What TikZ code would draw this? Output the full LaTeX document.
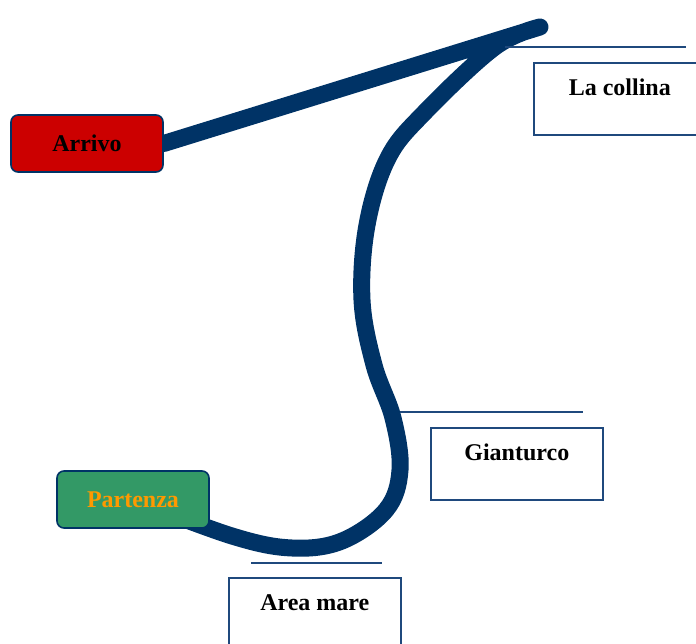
\documentclass[tikz,border=0pt]{standalone}
\usepackage{fontspec}
\setmainfont{Liberation Serif}
\usetikzlibrary{positioning, calc, backgrounds}
\definecolor{routeblue}{RGB}{0,51,102}
\definecolor{edgeblue}{RGB}{31,73,125}
\definecolor{endred}{RGB}{204,0,0}
\definecolor{startgreen}{RGB}{51,153,102}
\definecolor{startorange}{RGB}{255,153,0}

\begin{document}
\begin{tikzpicture}[
  x=1pt, y=-1pt,
  every node/.style={font=\fontsize{24}{28}\selectfont\bfseries},
  endpoint/.style={
    rectangle,
    draw=routeblue,
    line width=1.6pt,
    rounded corners=7pt,
    minimum width=152pt,
    minimum height=57pt,
    align=center
  },
  stage/.style={
    rectangle,
    draw=edgeblue,
    line width=1.6pt,
    fill=white,
    anchor=north west,
    minimum width=172pt,
    inner ysep=0pt,
    text height=33pt,
    text depth=39pt,
    align=center
  },
  route/.style={draw=routeblue, line width=17pt, line join=round, line cap=round},
  tick/.style={draw=edgeblue, line width=1.6pt}
]

\useasboundingbox (0,0) rectangle (696,644);

% ============================================================
% End points
% ============================================================

\node[endpoint, fill=endred, text=black] (arrivo) at (87,143.5) {Arrivo};
\node[endpoint, fill=startgreen, text=startorange] (partenza) at (133,499.5) {Partenza};

\coordinate (tip) at (540,27);

% ============================================================
% Route
% ============================================================

\begin{scope}[on background layer]
\draw[route] (arrivo.east) -- (tip) -- plot[smooth, tension=0.6] coordinates {
  (tip) (495,47) (425,112) (388,158) (367,225) (362,300)
  (374,365) (393,418) (400,470) (386,510) (342,541)
  (292,548) (232,536) (partenza.center)
};
\end{scope}

% ============================================================
% Stages
% ============================================================

\node[stage] (collina) at (533,62) {La collina};
\node[stage] (gianturco) at (430,427) {Gianturco};
\node[stage] (mare) at (228,577) {Area mare};

\draw[tick] ([shift={(-28pt,15pt)}]collina.north west) -- ++(181,0);
\draw[tick] ([shift={(-30pt,15pt)}]gianturco.north west) -- ++(183,0);
\draw[tick] ([shift={(23pt,14pt)}]mare.north west) -- ++(131,0);

\end{tikzpicture}
\end{document}
